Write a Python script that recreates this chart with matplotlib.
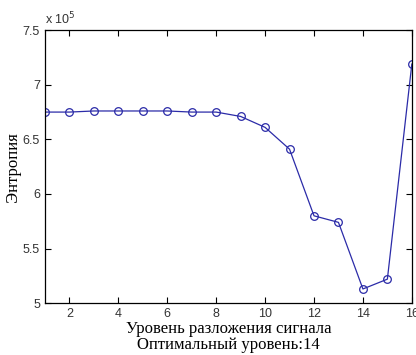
import matplotlib
matplotlib.use('Agg')
import matplotlib.pyplot as plt
from matplotlib.ticker import FuncFormatter

levels = list(range(1, 17))
entropy = [6.75, 6.75, 6.76, 6.76, 6.76, 6.76, 6.75, 6.75,
           6.71, 6.61, 6.41, 5.80, 5.74, 5.13, 5.22, 7.19]
entropy = [v * 1e5 for v in entropy]

plt.rcParams['font.family'] = ['Liberation Sans', 'DejaVu Sans']

fig = plt.figure(figsize=(4.16, 3.55), dpi=100)
ax = fig.add_axes([0.108, 0.146, 0.882, 0.769])

ax.plot(levels, entropy, color='#2b2ba8', lw=0.9, marker='o', ms=5.5,
        mfc='none', mec='#2b2ba8', mew=0.9)

ax.set_xlim(1, 16)
ax.set_ylim(5e5, 7.5e5)
ax.set_xticks(range(2, 17, 2))
ax.set_yticks([5e5, 5.5e5, 6e5, 6.5e5, 7e5, 7.5e5])
ax.yaxis.set_major_formatter(FuncFormatter(lambda v, p: '%g' % (v / 1e5)))
ax.tick_params(direction='in', top=True, right=True, labelsize=9,
               colors='black', labelcolor='#333333', length=4)
for s in ax.spines.values():
    s.set_linewidth(0.9)

ax.text(0.0, 1.01, 'x 10$^5$', transform=ax.transAxes, fontsize=9,
        color='#333333', va='bottom', ha='left')

serif = ['Liberation Serif', 'DejaVu Serif']
ax.set_xlabel('Уровень разложения сигнала\nОптимальный уровень:14',
              family=serif, fontsize=12, linespacing=0.95, labelpad=1)
ax.set_ylabel('Энтропия', family=serif, fontsize=12, labelpad=1)

fig.savefig('out.png', dpi=100)
